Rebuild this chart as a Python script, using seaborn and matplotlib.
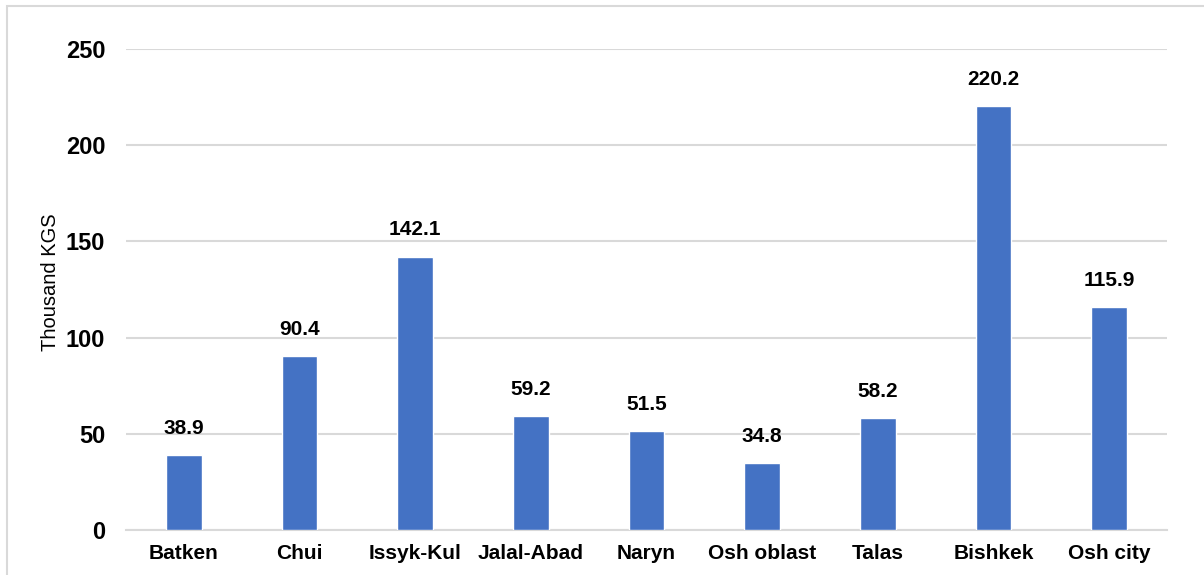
import matplotlib
matplotlib.use('Agg')
import matplotlib.pyplot as plt
import pandas as pd
import seaborn as sns
from matplotlib.patches import Rectangle

regions = ['Batken', 'Chui', 'Issyk-Kul', 'Jalal-Abad', 'Naryn', 'Osh oblast', 'Talas', 'Bishkek', 'Osh city']
values = [38.9, 90.4, 142.1, 59.2, 51.5, 34.8, 58.2, 220.2, 115.9]
y_ticks = [0, 50, 100, 150, 200, 250]

sns.set_theme(style='white')
plt.rcParams['font.family'] = ['Liberation Sans', 'DejaVu Sans']

df = pd.DataFrame({'Region': regions, 'Value': values})

fig = plt.figure(figsize=(12.04, 5.75), dpi=100)
ax = fig.add_axes([0.1047, 0.0783, 0.8646, 0.8365])

# рамка вокруг графика
fig.patches.append(Rectangle((7 / 1204, -0.1), 1.2, 1.1 - 6 / 575, transform=fig.transFigure,
                             fill=False, edgecolor='#d9d9d9', linewidth=1.5))

sns.barplot(data=df, x='Region', y='Value', color='#4472C4', saturation=1, width=0.31, ax=ax, zorder=3)

for i, v in enumerate(values):
    ax.text(i, v + 9, f'{v:.1f}', ha='center', va='bottom', fontsize=15, fontweight='bold', color='black')

ax.set_ylim(0, 250)
ax.set_yticks(y_ticks)
ax.set_xlim(-0.5, len(regions) - 0.5)
ax.yaxis.grid(True, color='#d9d9d9', linewidth=1.5, zorder=0)
for s in ['top', 'right', 'left']:
    ax.spines[s].set_visible(False)
ax.spines['bottom'].set_color('#d9d9d9')
ax.spines['bottom'].set_linewidth(1.5)
ax.tick_params(axis='y', labelsize=17, length=0, pad=15, labelcolor='black')
ax.tick_params(axis='x', labelsize=15, length=0, pad=10, labelcolor='black')
for lbl in ax.get_yticklabels() + ax.get_xticklabels():
    lbl.set_fontweight('bold')
ax.set_xlabel('')
ax.set_ylabel('Thousand KGS', fontsize=14.5, labelpad=4, color='black')
ax.yaxis.label.set_y(0.515)

fig.savefig('out.png', dpi=100)
